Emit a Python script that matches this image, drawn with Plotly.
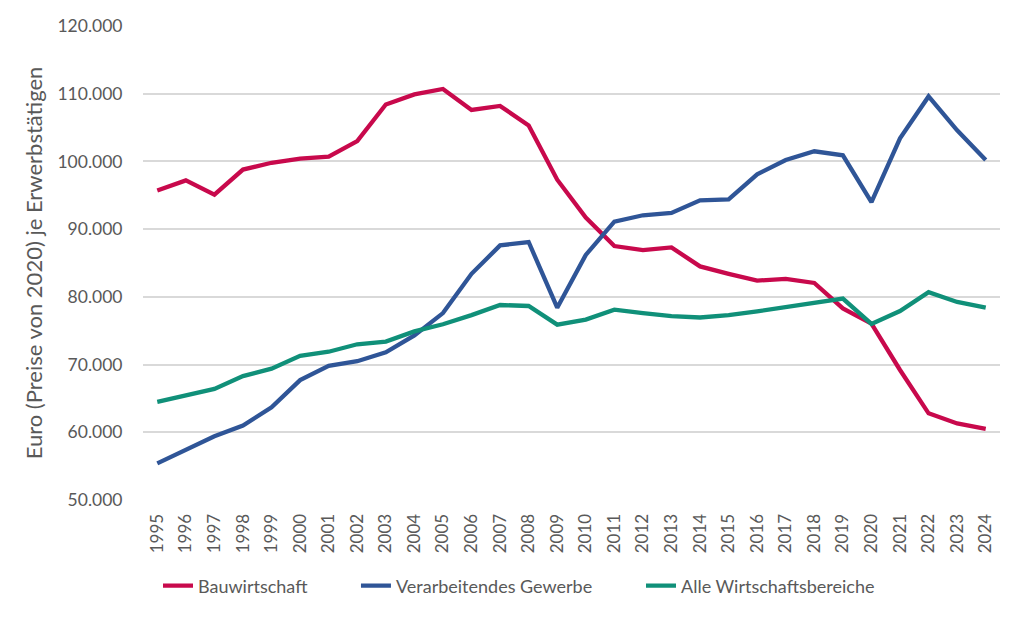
import plotly.graph_objects as go

years = [str(y) for y in range(1995, 2025)]
bau = [95700, 97200, 95100, 98800, 99800, 100400, 100700, 103000, 108400, 109900,
       110700, 107600, 108200, 105300, 97300, 91700, 87500, 86900, 87300, 84500,
       83400, 82400, 82650, 82050, 78300, 76050, 69200, 62800, 61300, 60500]
verarb = [55400, 57450, 59400, 61000, 63700, 67700, 69800, 70500, 71800, 74300,
          77600, 83400, 87600, 88100, 78400, 86200, 91100, 92050, 92400, 94250,
          94400, 98100, 100200, 101500, 100900, 94000, 103400, 109600, 104600, 100200]
alle = [64500, 65400, 66400, 68300, 69400, 71300, 71900, 73000, 73400, 74900,
        75950, 77300, 78800, 78650, 75900, 76650, 78100, 77600, 77150, 76950,
        77300, 77850, 78500, 79100, 79750, 76000, 77900, 80700, 79250, 78400]

series = [
    ("Bauwirtschaft", bau, "#C8094C", "legend", 0.0175),
    ("Verarbeitendes Gewerbe", verarb, "#2F5597", "legend2", 0.2485),
    ("Alle Wirtschaftsbereiche", alle, "#109079", "legend3", 0.5811),
]

fig = go.Figure()
for name, vals, col, leg, _ in series:
    fig.add_trace(go.Scatter(x=years, y=vals, name=name, mode="lines", legend=leg,
                             line=dict(color=col, width=4.3)))

font_family = "Lato, 'Open Sans', sans-serif"
legends = {}
for name, vals, col, leg, lx in series:
    legends[leg] = dict(orientation="h", x=lx, xanchor="left", y=-0.1814,
                        yanchor="middle", font=dict(size=18, color="#595959"),
                        itemwidth=30, bgcolor="rgba(0,0,0,0)")

fig.update_layout(
    width=1024, height=617,
    margin=dict(l=143, r=24, t=26, b=117),
    paper_bgcolor="white", plot_bgcolor="white",
    separators=",.",
    font=dict(family=font_family, color="#595959", size=17),
    showlegend=True,
    xaxis=dict(type="category", range=[-0.5, 29.5], showgrid=False, showline=False,
               tickangle=-90, tickfont=dict(size=17, color="#595959"),
               ticks="outside", ticklen=6, tickcolor="rgba(0,0,0,0)",
               zeroline=False),
    yaxis=dict(range=[50000, 120000], dtick=10000, tickformat=",d",
               showgrid=True, gridcolor="#D9D9D9", gridwidth=1.5, zeroline=False,
               showline=False, ticks="outside", ticklen=16, tickcolor="rgba(0,0,0,0)",
               tickfont=dict(size=17.5, color="#595959"),
               title=dict(text="Euro (Preise von 2020) je Erwerbstätigen",
                          font=dict(size=22, color="#595959"), standoff=8)),
    **legends,
)

fig.write_html("out.html")
